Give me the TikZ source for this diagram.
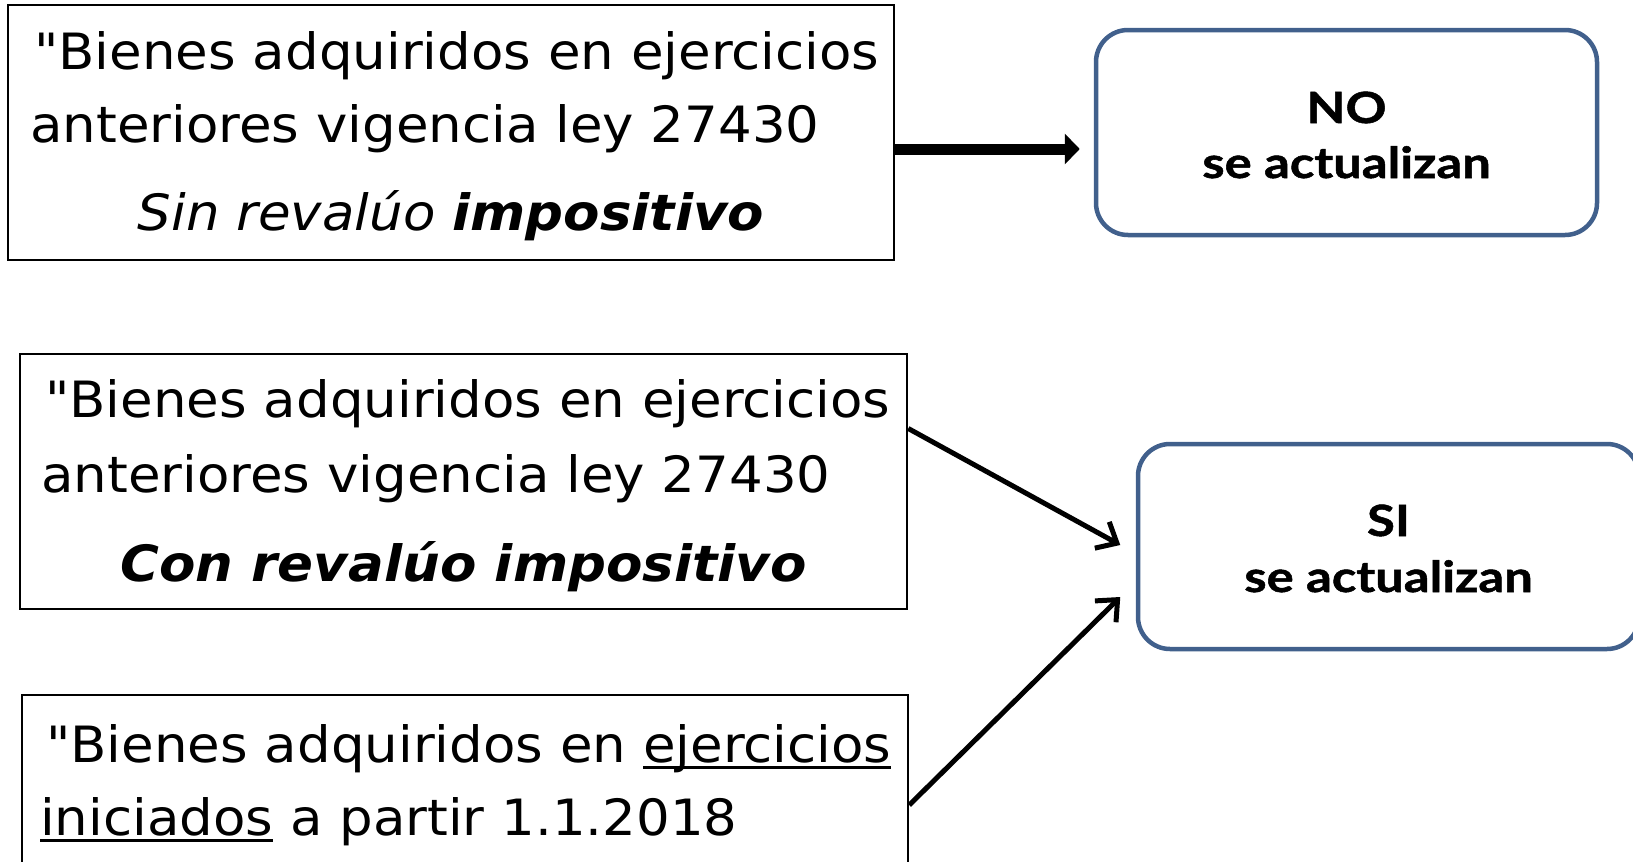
\documentclass[tikz,border=0pt]{standalone}
\usepackage{fontspec}
\setmainfont{DejaVu Sans}[Ligatures=TeXOff, FakeStretch=1.06]
\newfontfamily\gill{Lato}[FakeStretch=1.18, FakeBold=1.2]
\usetikzlibrary{arrows.meta,calc}
\definecolor{boxblue}{HTML}{41608C}
\newcommand\ulb[1]{\setbox0\hbox{#1}\rlap{\rule[-7pt]{\wd0}{3pt}}\box0\relax}
\tikzset{
  leftbox/.style={draw=black, line width=2.5pt, rectangle, inner sep=0pt},
  rightbox/.style={draw=boxblue, line width=4.5pt, rectangle, rounded corners=32pt, inner sep=0pt, minimum width=501pt, minimum height=205pt},
  lefttxt/.style={anchor=base west, inner sep=0pt, font=\fontsize{50}{60}\selectfont},
  midtxt/.style={anchor=base, inner sep=0pt, font=\fontsize{50}{60}\selectfont},
  bigtxt/.style={anchor=base, inner sep=0pt, font=\gill\bfseries\fontsize{43}{52}\selectfont},
  smalltxt/.style={anchor=base, inner sep=0pt, font=\gill\bfseries\fontsize{43}{52}\selectfont},
  thinarrow/.style={line width=5pt, -{Straight Barb[length=17pt, width=30pt, line width=5pt]}},
  thickarrow/.style={line width=11pt, -{Triangle[length=15pt, width=30pt]}}
}
\begin{document}
\begin{tikzpicture}[x=1pt, y=-1pt]
\useasboundingbox (0,0) rectangle (1633,862);
% left boxes
\node[leftbox, minimum width=886pt, minimum height=255pt] (b1) at (451,132.5) {};
\node[lefttxt] (t11) at (34,69) {"Bienes adquiridos en ejercicios};
\node[lefttxt] (t12) at (30,142) {anteriores vigencia ley 27430};
\node[midtxt] (t13) at (451,230) {\itshape Sin revalúo \bfseries impositivo};

\node[leftbox, minimum width=887pt, minimum height=255pt] (b2) at (463.5,481.5) {};
\node[lefttxt] (t21) at (45,417) {"Bienes adquiridos en ejercicios};
\node[lefttxt] (t22) at (41,492) {anteriores vigencia ley 27430};
\node[midtxt] (t23) at (463.5,581) {\bfseries\itshape Con revalúo impositivo};

\node[leftbox, minimum width=886pt, minimum height=255pt] (b3) at (465,822.5) {};
\node[lefttxt] (t31) at (46,762) {"Bienes adquiridos en \ulb{ejercicios}};
\node[lefttxt] (t32) at (40,835) {\ulb{iniciados} a partir 1.1.2018};

% right boxes
\node[rightbox] (no) at (1346.5,132.5) {};
\node[bigtxt] (no1) at (1346.5,123) {NO};
\node[smalltxt] (no2) at (1346.5,178) {se actualizan};

\node[rightbox] (si) at (1388.5,546.5) {};
\node[bigtxt] (si1) at (1388.5,536) {SI};
\node[smalltxt] (si2) at (1388.5,592) {se actualizan};

% arrows
\draw[thickarrow] ([yshift=-16.5pt]b1.east) -- ([yshift=-16.5pt, xshift=-14pt]no.west);
\draw[thinarrow] ([yshift=53pt]b2.east) -- ([xshift=-15.5pt, yshift=1.5pt]si.west);
\draw[thinarrow] ([yshift=17.5pt]b3.east) -- ([xshift=-15.5pt, yshift=-50.5pt]si.west);
\end{tikzpicture}
\end{document}
